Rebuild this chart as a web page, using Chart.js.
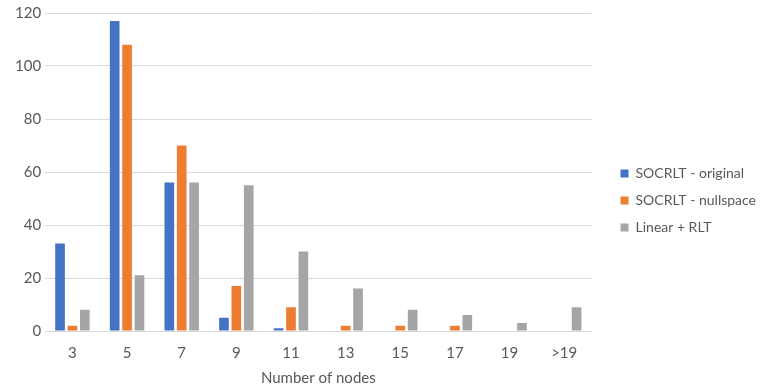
<!DOCTYPE html>
<html>
<head>
<meta charset="utf-8">
<script src="https://cdn.jsdelivr.net/npm/chart.js@4.4.0/dist/chart.umd.min.js"></script>
<style>
  html, body { margin: 0; padding: 0; background: #fff; }
  #wrap { width: 761px; height: 387px; }
</style>
</head>
<body>
<div id="wrap"><canvas id="myChart" width="761" height="387"></canvas></div>
<script>
// datos
const categorias = ["3", "5", "7", "9", "11", "13", "15", "17", "19", ">19"];
const socrltOriginal = [33, 117, 56, 5, 1, 0, 0, 0, 0, 0];
const socrltNullspace = [2, 108, 70, 17, 9, 2, 2, 2, 0, 0];
const linearRlt = [8, 21, 56, 55, 30, 16, 8, 6, 3, 9];

const grisTexto = "#595959";
const fuente = "Lato, 'Open Sans', sans-serif";

const data = {
  labels: categorias,
  datasets: [
    { label: "SOCRLT - original", backgroundColor: "#4472c4", data: socrltOriginal },
    { label: "SOCRLT - nullspace", backgroundColor: "#ed7d31", data: socrltNullspace },
    { label: "Linear + RLT", backgroundColor: "#a5a5a5", data: linearRlt },
  ],
};

//Plugin para mover la leyenda un poco a la derecha y abajo (como en la imagen original)
const moverLeyenda = {
  id: "moverLeyenda",
  afterLayout: (chart) => {
    if (chart.legend) {
      chart.legend.left += 16;
      chart.legend.right += 16;
      chart.legend.top += 6;
      chart.legend.bottom += 6;
      chart.legend.adjustHitBoxes();
    }
  },
};

const config = {
  type: "bar",
  data: data,
  plugins: [moverLeyenda],
  options: {
    responsive: false,
    animation: false,
    layout: { padding: { top: 2, right: 11, left: 11, bottom: 0 } },
    datasets: {
      bar: { categoryPercentage: 0.68, barPercentage: 0.78 },
    },
    plugins: {
      tooltip: { enabled: false },
      legend: {
        position: "right",
        align: "center",
        labels: {
          boxWidth: 8,
          boxHeight: 8,
          padding: 13,
          color: grisTexto,
          font: { family: fuente, size: 14 },
        },
      },
    },
    scales: {
      x: {
        grid: { display: false },
        border: { display: false },
        ticks: { color: grisTexto, font: { family: fuente, size: 15 }, padding: 5 },
        title: {
          display: true,
          text: "Number of nodes",
          color: grisTexto,
          font: { family: fuente, size: 15 },
          padding: { top: 2, bottom: 0 },
        },
      },
      y: {
        min: 0,
        max: 120,
        ticks: { stepSize: 20, color: grisTexto, font: { family: fuente, size: 15 }, padding: 4 },
        grid: { color: "#d9d9d9", drawTicks: false },
        border: { display: false },
      },
    },
  },
};

const myChart = new Chart(document.getElementById("myChart"), config);
</script>
</body>
</html>
